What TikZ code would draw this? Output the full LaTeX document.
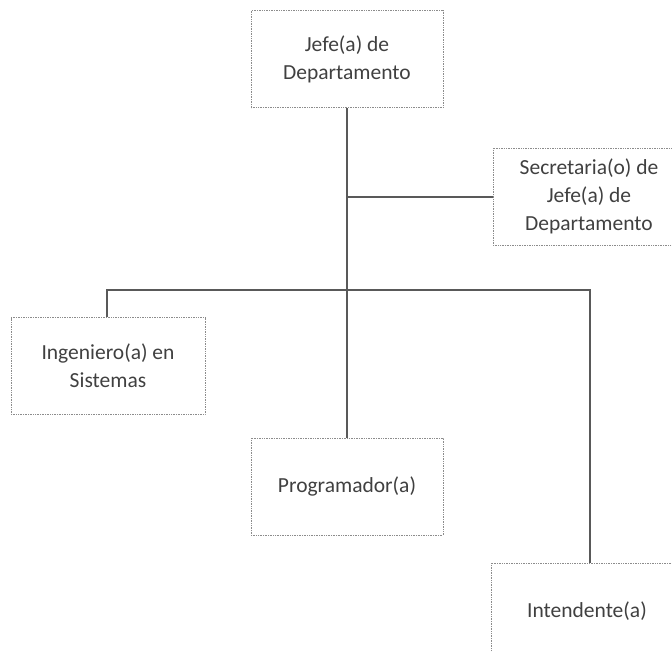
\documentclass[tikz,border=0pt]{standalone}
\usepackage{fontspec}
\setmainfont{Carlito}
\begin{document}
\begin{tikzpicture}[x=1pt,y=-1pt,
  box/.style={draw=black!45, densely dotted, line width=0.7pt, rectangle,
    minimum width=192pt, minimum height=97pt, align=center,
    font=\fontsize{21.5}{28}\selectfont, text=black!75},
  link/.style={draw=black!65, line width=1.8pt}]
\useasboundingbox (0,0) rectangle (672,651);
\clip (0,0) rectangle (672,651);
\node[box] (jefe) at (347,59) {Jefe(a) de\\Departamento};
\node[box] (sec) at (589,196.5) {Secretaria(o) de\\Jefe(a) de\\Departamento};
\node[box, minimum width=194pt] (ing) at (108,366) {Ingeniero(a) en\\Sistemas};
\node[box] (prog) at (347,486.5) {Programador(a)};
\node[box] (int) at (587,611.5) {Intendente(a)};
\coordinate (busR) at (590,290);
\coordinate (busL) at (107,290);
\coordinate (busC) at (347,290);
\coordinate (secJ) at (347,197);
\draw[link] (jefe.south) -- (prog.north);
\draw[link] (secJ) -- (sec.west |- secJ);
\draw[link] (ing.north -| busL) -- (busL) -- (busR) -- (busR |- int.north);
\end{tikzpicture}
\end{document}
